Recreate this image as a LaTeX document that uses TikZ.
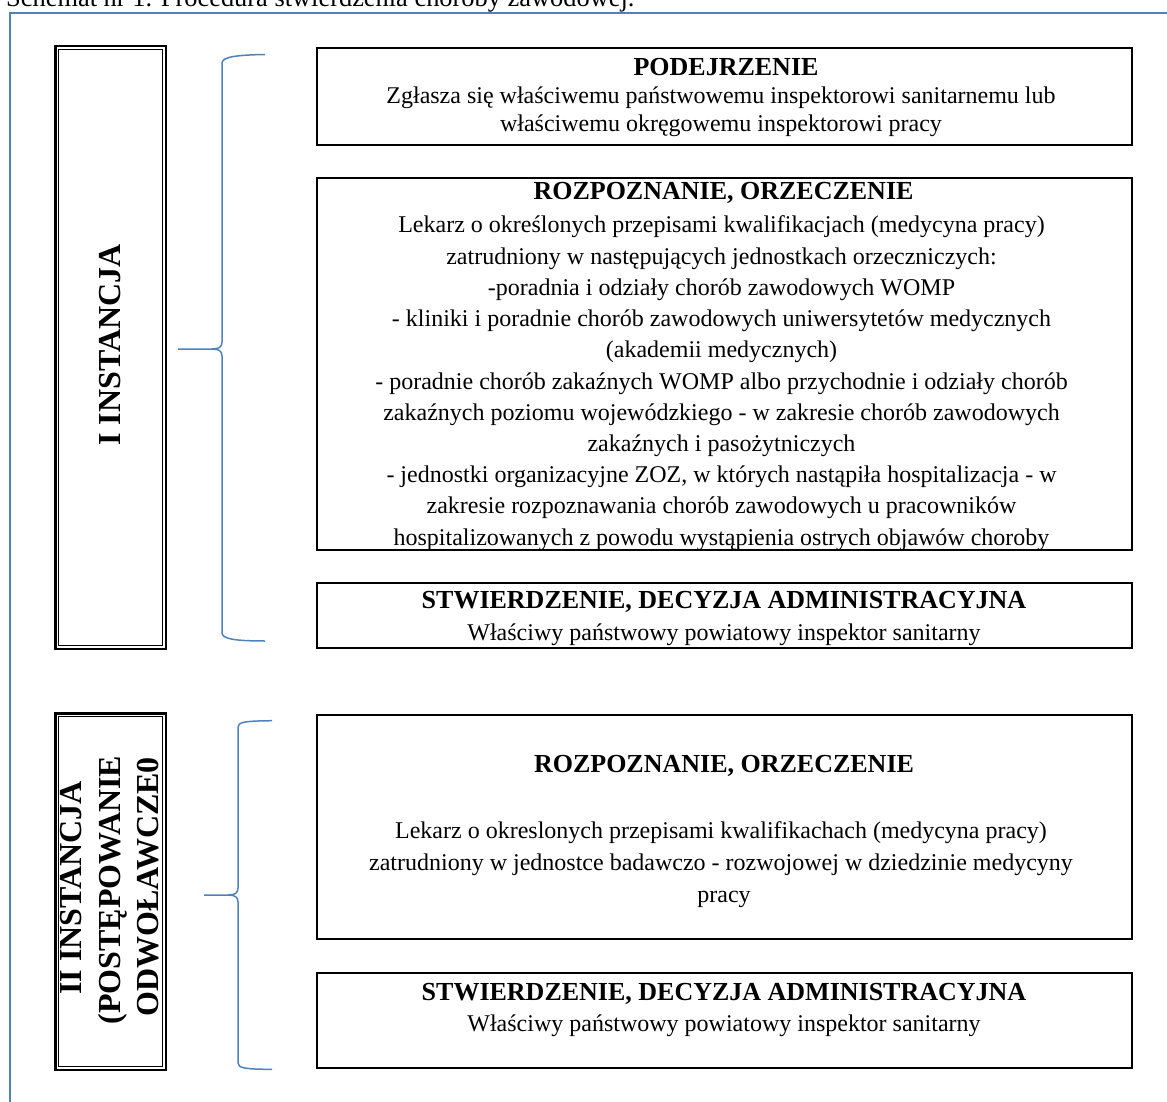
\documentclass[tikz,border=0pt]{standalone}
\usepackage{fontspec}
\setmainfont{Liberation Serif}
\definecolor{frameblue}{HTML}{4F81BD}
\begin{document}
\begin{tikzpicture}[x=1pt,y=-1pt,
  box/.style={draw=black, line width=2pt, anchor=north west, inner sep=0pt, minimum width=815pt},
  hd/.style={font=\fontsize{26}{30}\selectfont\bfseries, anchor=base, inner sep=0pt},
  bd/.style={font=\fontsize{24}{30}\selectfont, anchor=base, inner sep=0pt},
  vt/.style={font=\fontsize{32}{38}\selectfont\bfseries, anchor=base, inner sep=0pt, rotate=90},
  outerbox/.style={draw=black, line width=2.5pt, inner sep=0pt, minimum width=110.5pt},
  innerbox/.style={draw=black, line width=1pt, inner sep=0pt, minimum width=103.5pt},
  brace/.style={draw=frameblue, line width=1.5pt},
]
\useasboundingbox (0,0) rectangle (1167,1102);
\clip (0,0) rectangle (1167,1102);

% outer blue frame
\draw[frameblue, line width=1.8pt] (10,1110) -- (10,12.7) -- (1175,12.7);

% caption (cut by the top edge)
\node[bd, font=\fontsize{26.4}{30}\selectfont, anchor=base west] (cap) at (6,7) {Schemat nr 1. Procedura stwierdzenia choroby zawodowej.};

% ---------- left column boxes ----------
\node[outerbox, minimum height=602.5pt] (c1) at (110.5,347.5) {};
\node[innerbox, minimum height=595.5pt] (c1i) at (c1.center) {};
\node[vt] (c1t) at (120,345) {I INSTANCJA};

\node[outerbox, minimum height=356.5pt] (c2) at (110.5,891.5) {};
\node[innerbox, minimum height=349.5pt] (c2i) at (c2.center) {};
\node[vt] (c2a) at (81.7,888) {II INSTANCJA};
\node[vt] (c2b) at (120,890) {(POSTĘPOWANIE};
\node[vt] (c2c) at (158.3,887) {ODWOŁAWCZE0};

% ---------- braces ----------
\draw[brace] (265,54.5) .. controls (236,55) and (222,57) .. (222,63) -- (222,342)
  .. controls (222,347) and (219,349) .. (212,349) -- (178,349);
\draw[brace] (212,349) .. controls (219,349) and (222,351) .. (222,356) -- (222,633)
  .. controls (222,639) and (236,641) .. (265,641);

\draw[brace] (272,720.7) .. controls (245,721) and (238,722) .. (238,727) -- (238,888)
  .. controls (238,893) and (235,895) .. (228,895) -- (204,895);
\draw[brace] (228,895) .. controls (235,895) and (238,897) .. (238,902) -- (238,1063)
  .. controls (238,1068) and (245,1069.3) .. (272,1069.3);

% ---------- right boxes ----------
\node[box, minimum height=97pt] (b1) at (316,47) {};
\node[hd] (b1h) at (726,76) {PODEJRZENIE};
\node[bd] (b1a) at (721,103.5) {Zgłasza się właściwemu państwowemu inspektorowi sanitarnemu lub};
\node[bd] (b1b) at (721,132) {właściwemu okręgowemu inspektorowi pracy};

\node[box, minimum height=372pt] (b2) at (316,177) {};
\node[hd] (b2h) at (723.5,200) {ROZPOZNANIE, ORZECZENIE};
\foreach \t [count=\i from 0] in {
  {Lekarz o określonych przepisami kwalifikacjach (medycyna pracy)},
  {zatrudniony w następujących jednostkach orzeczniczych:},
  {-poradnia i odziały chorób zawodowych WOMP},
  {- kliniki i poradnie chorób zawodowych uniwersytetów medycznych},
  {(akademii medycznych)},
  {- poradnie chorób zakaźnych WOMP albo przychodnie i odziały chorób},
  {zakaźnych poziomu wojewódzkiego - w zakresie chorób zawodowych},
  {zakaźnych i pasożytniczych},
  {- jednostki organizacyjne ZOZ, w których nastąpiła hospitalizacja - w},
  {zakresie rozpoznawania chorób zawodowych u pracowników},
  {hospitalizowanych z powodu wystąpienia ostrych objawów choroby}}
  \node[bd] (b2l\i) at (721.5,233+31.2*\i) {\t};

\node[box, minimum height=65pt] (b3) at (316,582) {};
\node[hd] (b3h) at (724,608) {STWIERDZENIE, DECYZJA ADMINISTRACYJNA};
\node[bd] (b3a) at (724,640) {Właściwy państwowy powiatowy inspektor sanitarny};

\node[box, minimum height=224pt] (b4) at (316,714) {};
\node[hd] (b4h) at (724,772) {ROZPOZNANIE, ORZECZENIE};
\node[bd] (b4a) at (721,838) {Lekarz o okreslonych przepisami kwalifikachach (medycyna pracy)};
\node[bd] (b4b) at (721,870) {zatrudniony w jednostce badawczo - rozwojowej w dziedzinie medycyny};
\node[bd] (b4c) at (724,902) {pracy};

\node[box, minimum height=95pt] (b5) at (316,972) {};
\node[hd] (b5h) at (724,1000) {STWIERDZENIE, DECYZJA ADMINISTRACYJNA};
\node[bd] (b5a) at (724,1031) {Właściwy państwowy powiatowy inspektor sanitarny};
\end{tikzpicture}
\end{document}
